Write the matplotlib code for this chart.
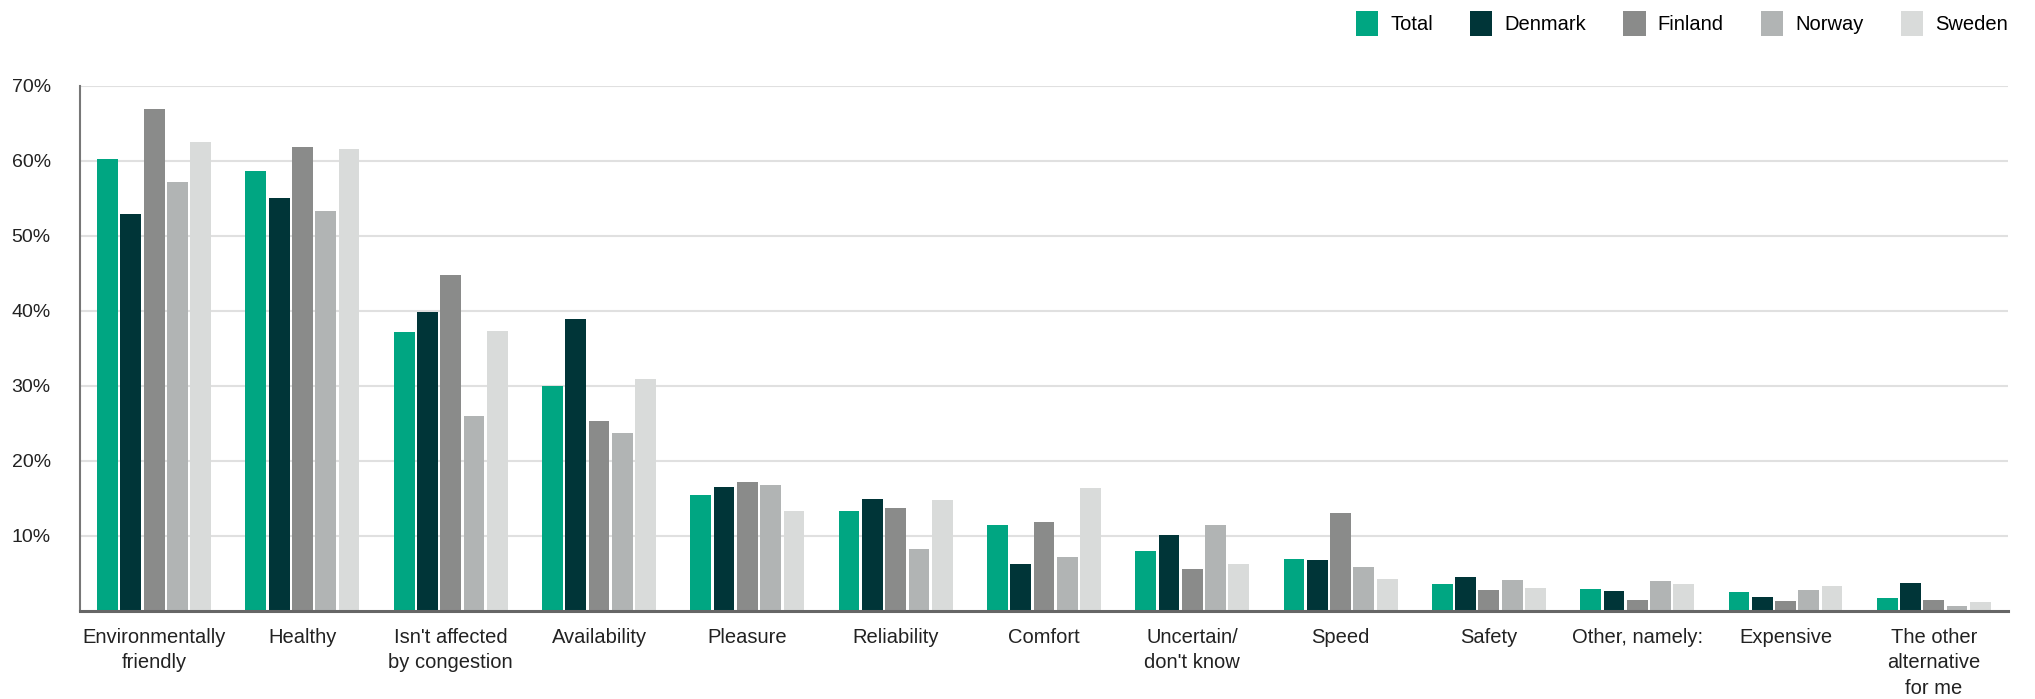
import matplotlib
matplotlib.use("Agg")
import matplotlib.pyplot as plt
import numpy as np
from matplotlib.patches import Patch

plt.rcParams['font.family'] = ['Liberation Sans', 'DejaVu Sans']

categories = ["Environmentally\nfriendly", "Healthy", "Isn't affected\nby congestion",
              "Availability", "Pleasure", "Reliability", "Comfort",
              "Uncertain/\ndon't know", "Speed", "Safety", "Other, namely:",
              "Expensive", "The other\nalternative\nfor me"]

total   = [60.2, 58.6, 37.2, 30.0, 15.5, 13.3, 11.5, 8.0, 6.9, 3.6, 2.9, 2.5, 1.7]
denmark = [52.9, 55.0, 39.9, 38.9, 16.5, 14.9, 6.3, 10.1, 6.8, 4.5, 2.7, 1.9, 3.7]
finland = [66.9, 61.9, 44.8, 25.3, 17.2, 13.7, 11.9, 5.6, 13.1, 2.8, 1.5, 1.3, 1.5]
norway  = [57.2, 53.3, 26.0, 23.7, 16.8, 8.3, 7.2, 11.5, 5.9, 4.1, 4.0, 2.8, 0.7]
sweden  = [62.5, 61.6, 37.3, 30.9, 13.3, 14.8, 16.4, 6.3, 4.3, 3.1, 3.6, 3.3, 1.2]

series_names = ["Total", "Denmark", "Finland", "Norway", "Sweden"]
series = [total, denmark, finland, norway, sweden]
colors = ["#00A682", "#003538", "#8A8B8A", "#B1B4B4", "#D9DBDA"]
yticks = [10, 20, 30, 40, 50, 60, 70]

fig = plt.figure(figsize=(20.35, 6.99), dpi=100)
ax = fig.add_axes([0.0393, 0.1259, 0.9474, 0.7511])

x = np.arange(len(categories))
pitch = 0.157
width = 0.14
for i, (name, vals, c) in enumerate(zip(series_names, series, colors)):
    ax.bar(x + (i - 2) * pitch, vals, width=width, color=c, label=name, zorder=3)

ax.set_xlim(-0.5, len(categories) - 0.5)
ax.set_ylim(0, 70)
ax.set_yticks(yticks)
ax.set_yticklabels([f"{v}%" for v in yticks])
ax.set_xticks(x)
ax.set_xticklabels(categories, linespacing=1.45)
ax.grid(axis='y', color='#E0E0E0', linewidth=1.5, zorder=0)
ax.tick_params(axis='y', length=0, pad=21, labelsize=14, labelcolor='#222222')
ax.tick_params(axis='x', length=0, pad=12, labelsize=14.5, labelcolor='#222222')
for s in ['top', 'right']:
    ax.spines[s].set_visible(False)
ax.spines['left'].set_color('#777777')
ax.spines['left'].set_linewidth(1.5)
ax.spines['bottom'].set_color('#666666')
ax.spines['bottom'].set_linewidth(2.2)
ax.spines['bottom'].set_zorder(4)

handles = [Patch(facecolor=c, edgecolor='none') for c in colors]
fig.legend(handles, series_names, loc='center right', bbox_to_anchor=(0.9866, 0.966),
           ncol=5, frameon=False, fontsize=14.5, handlelength=1.1, handleheight=1.5,
           handletextpad=0.6, columnspacing=1.85, borderaxespad=0, borderpad=0)

fig.savefig("out.png", dpi=100)
